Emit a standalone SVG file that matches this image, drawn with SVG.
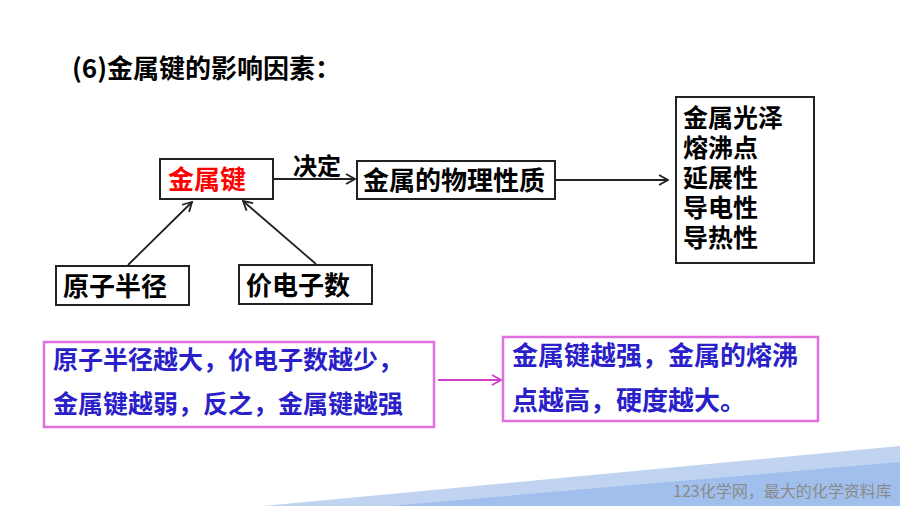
<svg xmlns="http://www.w3.org/2000/svg" width="900" height="506" viewBox="0 0 900 506">
<defs>
<style>
.t{font-family:"Noto Sans CJK SC","Liberation Sans",sans-serif;font-weight:bold;font-size:26px;fill:#000}
.box{fill:#fff;stroke:#222;stroke-width:2}
.pbox{fill:#fff;stroke:#e070e0;stroke-width:2.5}
.blue{fill:#2a1fc8}
.ln{stroke:#222;stroke-width:1.8;fill:none}
</style>
<marker id="ah" viewBox="0 0 12 12" refX="11" refY="6" markerWidth="12" markerHeight="12" markerUnits="userSpaceOnUse" orient="auto">
<polyline points="2,1 11,6 2,11" fill="none" stroke="#222" stroke-width="1.8"/>
</marker>
<marker id="ahp" viewBox="0 0 12 12" refX="11" refY="6" markerWidth="12" markerHeight="12" markerUnits="userSpaceOnUse" orient="auto">
<polyline points="2,1 11,6 2,11" fill="none" stroke="#d040c8" stroke-width="1.8"/>
</marker>
</defs>
<rect width="900" height="506" fill="#fff"/>
<polygon points="263,506 900,446 900,506" fill="#c0d4f2"/>
<polygon points="390,506 900,462 900,506" fill="#a0bfec"/>
<text x="673" y="497" style="font-family:'Noto Sans CJK SC','Liberation Sans',sans-serif;font-size:16px;fill:#8a8a8a">123化学网，最大的化学资料库</text>

<text class="t" x="72" y="78">(6)金属键的影响因素：</text>

<g id="connectors">
<line class="ln" x1="273" y1="179" x2="355" y2="179" marker-end="url(#ah)"/>
<text class="t" x="293" y="175" style="font-size:24px">决定</text>
<line class="ln" x1="555" y1="180" x2="668" y2="180" marker-end="url(#ah)"/>
<line class="ln" x1="128" y1="265" x2="192" y2="202" marker-end="url(#ah)"/>
<line class="ln" x1="316" y1="264" x2="243" y2="201" marker-end="url(#ah)"/>
<line x1="438" y1="380" x2="501" y2="380" stroke="#d040c8" stroke-width="1.8" marker-end="url(#ahp)"/>
</g>

<g id="n_bond">
<rect class="box" x="160" y="159" width="113" height="40"/>
<text class="t" x="168" y="189" style="fill:#ff0000">金属键</text>
</g>
<g id="n_props">
<rect class="box" x="357" y="161" width="198" height="38"/>
<text class="t" x="363" y="190">金属的物理性质</text>
</g>
<g id="n_radius">
<rect class="box" x="56" y="266" width="133" height="39"/>
<text class="t" x="63" y="296">原子半径</text>
</g>
<g id="n_valence">
<rect class="box" x="239" y="265" width="133" height="39"/>
<text class="t" x="246" y="295">价电子数</text>
</g>
<g id="n_list">
<rect class="box" x="676" y="97" width="138" height="166"/>
<text class="t" x="683" y="127" style="font-size:25px">金属光泽</text>
<text class="t" x="683" y="157" style="font-size:25px">熔沸点</text>
<text class="t" x="683" y="187" style="font-size:25px">延展性</text>
<text class="t" x="683" y="217" style="font-size:25px">导电性</text>
<text class="t" x="683" y="247" style="font-size:25px">导热性</text>
</g>
<g id="n_rule">
<rect class="pbox" x="44" y="342" width="390" height="85"/>
<text class="t blue" x="53" y="369" style="font-size:25px">原子半径越大，价电子数越少，</text>
<text class="t blue" x="53" y="413" style="font-size:25px">金属键越弱，反之，金属键越强</text>
</g>
<g id="n_result">
<rect class="pbox" x="503" y="337" width="315" height="84"/>
<text class="t blue" x="512" y="365">金属键越强，金属的熔沸</text>
<text class="t blue" x="512" y="410">点越高，硬度越大。</text>
</g>
</svg>
